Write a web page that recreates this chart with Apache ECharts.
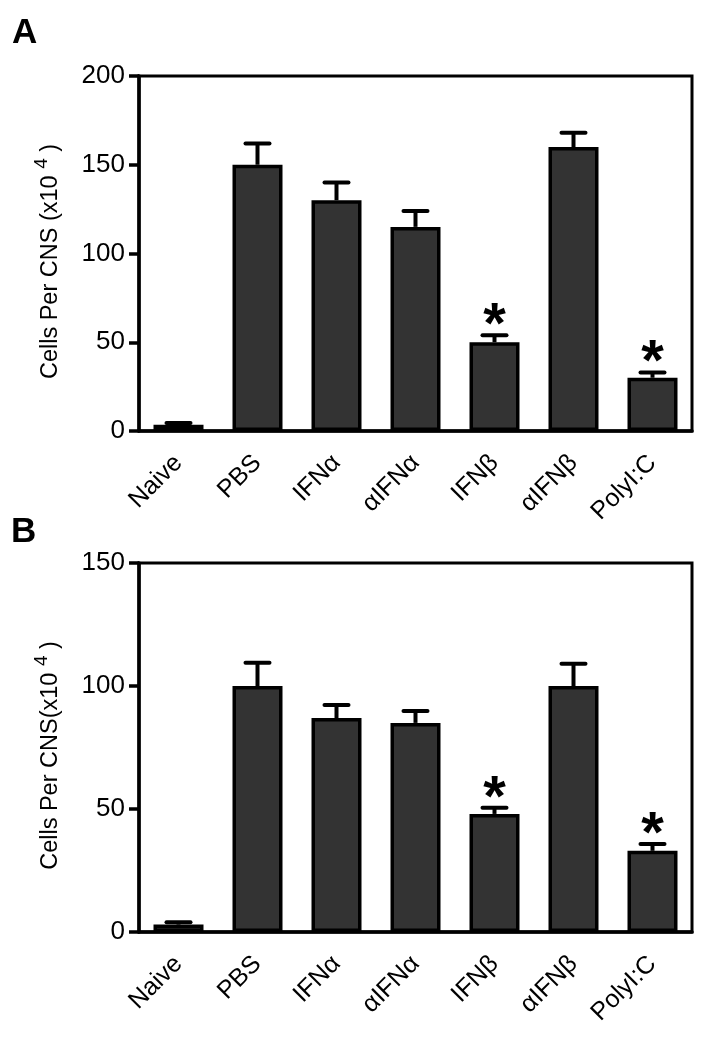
<!DOCTYPE html>
<html>
<head>
<meta charset="utf-8">
<script src="https://cdn.jsdelivr.net/npm/echarts@6/dist/echarts.min.js"></script>
<style>
html,body{margin:0;padding:0;background:#fff;}
#chart{width:704px;height:1037px;}
</style>
</head>
<body>
<div id="chart"></div>
<script>
const categories = ['Naive', 'PBS', 'IFN\u03b1', '\u03b1IFN\u03b1', 'IFN\u03b2', '\u03b1IFN\u03b2', 'PolyI:C'];
const valuesA = [3.5, 150, 130, 115, 50, 160, 30];
const errorsA = [1, 12, 10, 9, 4, 8, 3];
const sigA = [0, 0, 0, 0, 1, 0, 1];
const valuesB = [3, 100, 87, 85, 48, 100, 33];
const errorsB = [1, 9.5, 5.3, 4.8, 2.5, 9, 2.8];
const sigB = [0, 0, 0, 0, 1, 0, 1];
const ticksA = {min: 0, max: 200, interval: 50};
const ticksB = {min: 0, max: 150, interval: 50};

const FONT = 'Liberation Sans, Arial, Helvetica, sans-serif';

function errRender(params, api) {
  const i = api.value(0), v = api.value(1), e = api.value(2), s = api.value(3);
  const p0 = api.coord([i, v]);
  const p1 = api.coord([i, v + e]);
  const children = [
    {type: 'line', shape: {x1: p0[0], y1: p0[1], x2: p1[0], y2: p1[1]}, style: {stroke: '#000', lineWidth: 4}},
    {type: 'line', shape: {x1: p1[0] - 12, y1: p1[1], x2: p1[0] + 12, y2: p1[1]}, style: {stroke: '#000', lineWidth: 4, lineCap: 'round'}}
  ];
  if (s) {
    children.push({type: 'text', x: p1[0], y: p1[1] - 8, style: {text: '*', fontFamily: FONT, fontWeight: 'bold', fontSize: 58, fill: '#000', align: 'center', verticalAlign: 'middle'}});
  }
  return {type: 'group', children};
}

function errData(vals, errs, sig) {
  return vals.map((v, i) => [i, v, errs[i], sig[i]]);
}

function xAx(gi) {
  return {
    type: 'category', gridIndex: gi, data: categories,
    axisLine: {lineStyle: {color: '#000', width: 3.5}},
    axisTick: {alignWithLabel: true, length: 10, lineStyle: {color: '#000', width: 3.5}},
    axisLabel: {rotate: 45, margin: 28, color: '#000', fontFamily: FONT, fontSize: 25, interval: 0}
  };
}
function yAx(gi, t, name) {
  return {
    type: 'value', gridIndex: gi, min: t.min, max: t.max, interval: t.interval,
    splitLine: {show: false},
    axisLine: {show: true, lineStyle: {color: '#000', width: 3.5}},
    axisTick: {show: true, length: 10, lineStyle: {color: '#000', width: 3.5}},
    axisLabel: {margin: 14, color: '#000', fontFamily: FONT, fontSize: 26},
    name: name, nameLocation: 'middle', nameGap: 76,
    nameTextStyle: {
      color: '#000', fontFamily: FONT, fontSize: 23.5, padding: [0, 16, 0, 0],
      rich: {
        a: {color: '#000', fontFamily: FONT, fontSize: 23.5, lineHeight: 26, verticalAlign: 'bottom'},
        s: {color: '#000', fontFamily: FONT, fontSize: 19, lineHeight: 19, padding: [0, 0, 12, 0], verticalAlign: 'bottom'}
      }
    }
  };
}

const barStyle = {color: '#333333', borderColor: '#000', borderWidth: 3.5};

const option = {
  animation: false,
  backgroundColor: '#fff',
  grid: [
    {left: 139, right: 12, top: 76, height: 355, show: true, borderColor: '#000', borderWidth: 3},
    {left: 139, right: 12, top: 563, height: 369, show: true, borderColor: '#000', borderWidth: 3}
  ],
  xAxis: [xAx(0), xAx(1)],
  yAxis: [
    yAx(0, ticksA, '{a|Cells Per CNS (x10 }{s|4}{a| )}'),
    yAx(1, ticksB, '{a|Cells Per CNS(x10 }{s|4}{a| )}')
  ],
  graphic: [
    {type: 'text', left: 12, top: 16, style: {text: 'A', fontFamily: FONT, fontWeight: 'bold', fontSize: 35, fill: '#000'}},
    {type: 'text', left: 11, top: 515, style: {text: 'B', fontFamily: FONT, fontWeight: 'bold', fontSize: 35, fill: '#000'}}
  ],
  series: [
    {type: 'bar', xAxisIndex: 0, yAxisIndex: 0, data: valuesA, barWidth: 50, itemStyle: barStyle},
    {type: 'custom', xAxisIndex: 0, yAxisIndex: 0, data: errData(valuesA, errorsA, sigA), renderItem: errRender, z: 5, clip: false},
    {type: 'bar', xAxisIndex: 1, yAxisIndex: 1, data: valuesB, barWidth: 50, itemStyle: barStyle},
    {type: 'custom', xAxisIndex: 1, yAxisIndex: 1, data: errData(valuesB, errorsB, sigB), renderItem: errRender, z: 5, clip: false}
  ]
};

const chart = echarts.init(document.getElementById('chart'), null, {renderer: 'canvas'});
chart.setOption(option);
</script>
</body>
</html>
